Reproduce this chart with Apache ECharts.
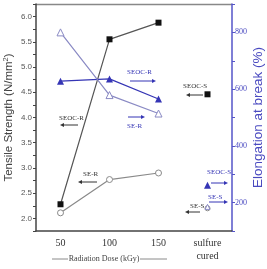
<!DOCTYPE html>
<html><head><meta charset="utf-8">
<script src="https://cdn.jsdelivr.net/npm/echarts@6/dist/echarts.min.js"></script>
<style>html,body{margin:0;padding:0;background:#fff}#c{width:267px;height:269px}</style>
</head><body><div id="c"></div>
<script>
var categories = ['50', '100', '150', 'sulfure\ncured'];
var tensileSEOCR = [2.28, 5.55, 5.88, null];
var tensileSEOCS = [null, null, null, 4.46];
var tensileSER = [2.11, 2.77, 2.90, null];
var tensileSES = [null, null, null, 2.20];
var elongSEOCR = [628, 636, 565, null];
var elongSEOCS = [null, null, null, 261];
var elongSER = [800, 579, 514, null];
var elongSES = [null, null, null, 185];
var leftTicks = ['2.0','2.5','3.0','3.5','4.0','4.5','5.0','5.5','6.0'];
var rightTicks = ['200','400','600','800'];

var BLUE = '#3535b5', LAV = '#8a8ac4', DARK = '#333', GRAY = '#8a8a8a';
var serif = '"Liberation Serif","DejaVu Serif",serif';
var sans = '"Liberation Sans",Arial,sans-serif';

function arrow(x1, x2, y, color) { // head at x2
  var dir = x2 > x1 ? 1 : -1;
  return [
    {type:'line', shape:{x1:x1, y1:y, x2:x2 - dir*3, y2:y}, style:{stroke:color, lineWidth:1}, silent:true},
    {type:'polygon', shape:{points:[[x2,y],[x2-dir*4,y-2],[x2-dir*4,y+2]]}, style:{fill:color}, silent:true}
  ];
}
function label(x, y, t, color) {
  return {type:'text', x:x, y:y, style:{text:t, fill:color, font:'7px ' + serif, textAlign:'left', textVerticalAlign:'middle'}, silent:true};
}
var g = [];
g.push(label(59, 118, 'SEOC-R', DARK)); g = g.concat(arrow(78, 60, 125, DARK));
g.push(label(127, 72, 'SEOC-R', BLUE)); g = g.concat(arrow(130, 156, 81, BLUE));
g.push(label(127, 126, 'SE-R', BLUE)); g = g.concat(arrow(128, 145, 117, BLUE));
g.push(label(183, 86, 'SEOC-S', DARK)); g = g.concat(arrow(203, 186, 95, DARK));
g.push(label(83, 174, 'SE-R', DARK)); g = g.concat(arrow(97, 78, 182, DARK));
g.push(label(207, 172, 'SEOC-S', BLUE)); g = g.concat(arrow(211, 228, 183, BLUE));
g.push(label(208, 197, 'SE-S', BLUE)); g = g.concat(arrow(209, 228, 202, BLUE));
g.push(label(190, 206, 'SE-S', DARK)); g = g.concat(arrow(200, 185, 212, DARK));
// x-axis title with side lines
g.push({type:'line', shape:{x1:52, y1:259, x2:68, y2:259}, style:{stroke:GRAY, lineWidth:1}, silent:true});
g.push({type:'line', shape:{x1:140, y1:259, x2:167, y2:259}, style:{stroke:GRAY, lineWidth:1}, silent:true});
g.push({type:'text', x:104, y:259, style:{text:'Radiation Dose (kGy)', fill:'#444', font:'8px ' + serif, textAlign:'center', textVerticalAlign:'middle'}, silent:true});
// top border
g.push({type:'line', shape:{x1:36, y1:4.5, x2:232, y2:4.5}, style:{stroke:'#888', lineWidth:1.5}, silent:true});

var chart = echarts.init(document.getElementById('c'), null, {renderer:'canvas'});
chart.setOption({
  animation:false,
  backgroundColor:'#fff',
  grid:{left:36, right:35, top:4, bottom:38, containLabel:false, outerBoundsMode:'none'},
  xAxis:{type:'category', data:categories, boundaryGap:true,
    axisLine:{lineStyle:{color:'#444', width:1.5}},
    axisTick:{alignWithLabel:true, length:3, lineStyle:{color:'#444'}},
    axisLabel:{color:'#333', fontFamily:serif, fontSize:10, lineHeight:13, margin:6}},
  yAxis:[
    {type:'value', min:1.75, max:6.25, interval:0.25, position:'left',
     name:'Tensile Strength (N/mm{sup|2})', nameLocation:'middle', nameGap:20, nameMoveOverlap:false,
     nameTextStyle:{color:'#444', fontFamily:sans, fontSize:11.5, rich:{sup:{fontSize:7.5, verticalAlign:'top', color:'#444', fontFamily:sans, padding:[0,0,6,0]}}},
     axisLine:{show:true, lineStyle:{color:'#444', width:1.5}},
     axisTick:{show:true, length:3, lineStyle:{color:'#444'}},
     splitLine:{show:false},
     axisLabel:{color:'#555', fontFamily:sans, fontSize:8, margin:4,
       formatter:function(v){ var s=v.toFixed(1); return leftTicks.indexOf(s)>=0 && Math.abs(v*2-Math.round(v*2))<1e-6 ? s : ''; }}},
    {type:'value', min:100, max:900, interval:100, position:'right',
     name:'Elongation at break (%)', nameLocation:'middle', nameGap:19, nameRotate:90, nameMoveOverlap:false,
     nameTextStyle:{color:'#4a4ac0', fontFamily:sans, fontSize:13.5},
     axisLine:{show:true, lineStyle:{color:'#5555c8', width:1.5}},
     axisTick:{show:true, length:3, lineStyle:{color:'#5555c8'}},
     splitLine:{show:false},
     axisLabel:{color:'#4a4ac0', fontFamily:serif, fontSize:8, margin:3,
       formatter:function(v){ var s=String(v); return rightTicks.indexOf(s)>=0 ? s : ''; }}}
  ],
  series:[
    {type:'line', yAxisIndex:0, data:tensileSEOCR, symbol:'rect', symbolSize:6, lineStyle:{color:'#555', width:1.2}, itemStyle:{color:'#111'}, connectNulls:false},
    {type:'line', yAxisIndex:0, data:tensileSEOCS, symbol:'rect', symbolSize:6, itemStyle:{color:'#111'}},
    {type:'line', yAxisIndex:0, data:tensileSER, symbol:'circle', symbolSize:6, lineStyle:{color:GRAY, width:1.2}, itemStyle:{color:'#fff', borderColor:GRAY, borderWidth:1}},
    {type:'line', yAxisIndex:0, data:tensileSES, symbol:'circle', symbolSize:5, itemStyle:{color:'#fff', borderColor:GRAY, borderWidth:1}},
    {type:'line', yAxisIndex:1, data:elongSEOCR, symbol:'triangle', symbolSize:7, lineStyle:{color:BLUE, width:1.2}, itemStyle:{color:BLUE}},
    {type:'line', yAxisIndex:1, data:elongSEOCS, symbol:'triangle', symbolSize:7, itemStyle:{color:BLUE}},
    {type:'line', yAxisIndex:1, data:elongSER, symbol:'triangle', symbolSize:7, lineStyle:{color:LAV, width:1.2}, itemStyle:{color:'#fff', borderColor:LAV, borderWidth:1}},
    {type:'line', yAxisIndex:1, data:elongSES, symbol:'triangle', symbolSize:5, itemStyle:{color:'#fff', borderColor:LAV, borderWidth:1}}
  ],
  graphic:g
});
</script></body></html>
